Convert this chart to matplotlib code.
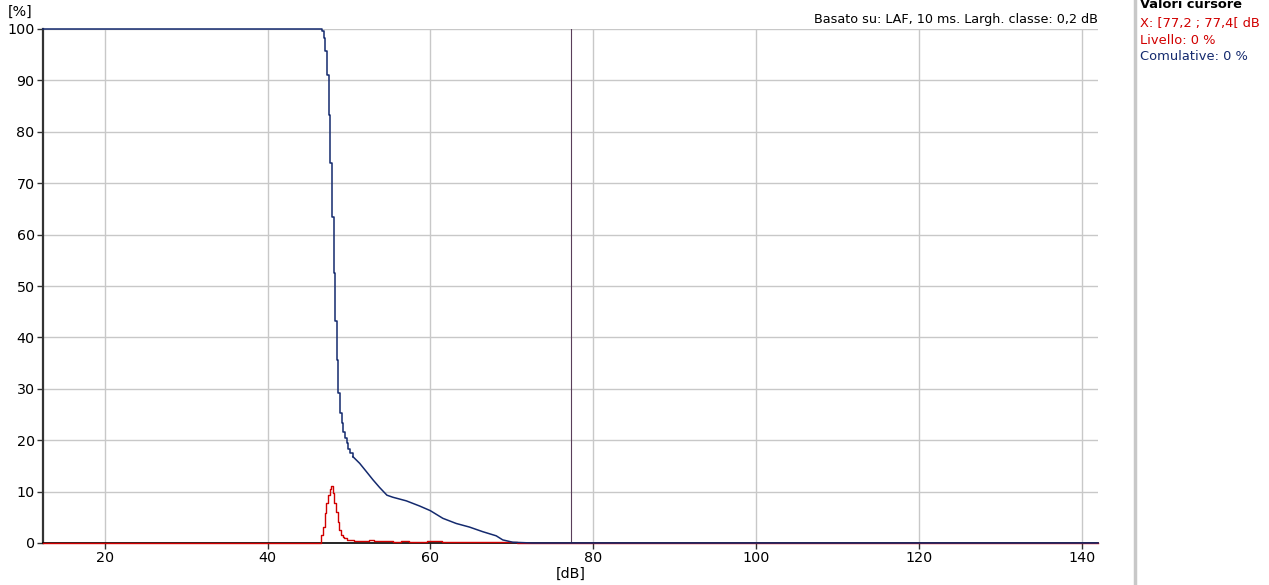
import matplotlib
matplotlib.use("Agg")
import matplotlib.pyplot as plt
from matplotlib.lines import Line2D

# level distribution (class width 0.2 dB), left bin edges in dB, % of time
level_db = [12.4, 46.4, 46.6, 46.8, 47.0, 47.2, 47.4, 47.6, 47.8, 48.0, 48.2,
            48.4, 48.6, 48.8, 49.0, 49.2, 49.4, 49.6, 49.8, 50.0, 50.2, 50.6,
            51.0, 51.6, 52.4, 53.0, 53.8, 54.6, 55.4, 56.4, 57.4, 58.6, 59.6,
            60.6, 61.4, 62.6, 63.6, 64.6, 65.6, 66.6, 67.6, 68.6, 69.6, 70.6,
            71.6, 142.0]
level_pct = [0.0, 0.0, 1.6, 3.2, 5.8, 7.7, 9.3, 10.6, 11.0, 9.7, 7.7,
             6.1, 4.1, 2.5, 1.6, 1.2, 0.9, 0.95, 0.6, 0.5, 0.5, 0.4,
             0.45, 0.4, 0.5, 0.45, 0.4, 0.3, 0.25, 0.3, 0.2, 0.25, 0.3,
             0.35, 0.25, 0.2, 0.25, 0.2, 0.25, 0.2, 0.25, 0.15, 0.1, 0.05,
             0.0, 0.0]

# cumulative distribution: stepped part and smooth tail
cum_step_db = [12.4, 46.7, 46.9, 47.1, 47.3, 47.5, 47.7, 47.9, 48.1, 48.3,
               48.5, 48.7, 48.9, 49.1, 49.3, 49.5, 49.7, 49.9, 50.1, 50.47]
cum_step_pct = [100.0, 99.7, 98.3, 95.7, 91.1, 83.3, 74.0, 63.4, 52.5, 43.1,
                35.6, 29.1, 25.2, 23.3, 21.5, 20.4, 19.4, 18.2, 17.5, 16.8]
cum_tail_db = [50.47, 51.3, 52.12, 52.93, 53.75, 54.65, 55.38, 57.03, 58.66,
               59.97, 61.52, 63.16, 64.79, 66.42, 68.07, 68.88, 70.11, 72.5,
               142.0]
cum_tail_pct = [16.8, 15.5, 13.9, 12.3, 10.8, 9.3, 8.9, 8.2, 7.2,
                6.3, 4.8, 3.8, 3.1, 2.2, 1.4, 0.6, 0.15, 0.0,
                0.0]

cursor_db = 77.2
x_ticks = [20, 40, 60, 80, 100, 120, 140]
y_ticks = [0, 10, 20, 30, 40, 50, 60, 70, 80, 90, 100]

blue = "#142a6e"
red = "#d10000"
fs = 9.2

plt.rcParams['font.family'] = ['DejaVu Sans']
fig = plt.figure(figsize=(12.69, 5.85), dpi=100)
ax = fig.add_axes([43 / 1269, 42 / 585, 1055 / 1269, 514 / 585])

ax.set_xlim(12.4, 142)
ax.set_ylim(0, 100)
ax.set_xticks(x_ticks)
ax.set_yticks(y_ticks)
ax.grid(True, color="#c8c8c8", linewidth=1.0)
ax.set_axisbelow(True)
for side in ["top", "right"]:
    ax.spines[side].set_visible(False)
ax.spines["left"].set_color("#333333")
ax.spines["left"].set_linewidth(1.6)
ax.spines["bottom"].set_color("black")
ax.spines["bottom"].set_linewidth(1.2)
ax.tick_params(axis="both", labelsize=10.3, length=4, width=1, color="#333333",
               pad=2)

ax.axvline(cursor_db, color="#5a3e5a", linewidth=0.8, zorder=2)

ax.plot(level_db, level_pct, drawstyle="steps-post", color=red, linewidth=1.0,
        zorder=3, clip_on=False)
ax.plot(cum_step_db, cum_step_pct, drawstyle="steps-post", color=blue,
        linewidth=1.1, zorder=4, clip_on=False)
ax.plot(cum_tail_db, cum_tail_pct, color=blue, linewidth=1.1, zorder=4,
        clip_on=False)

ax.set_xlabel("[dB]", fontsize=10.3, labelpad=1)
fig.text(8 / 1269, 1 - 12 / 585, "[%]", fontsize=10.3, va="center", ha="left")
fig.text(1098 / 1269, 1 - 19 / 585, "Basato su: LAF, 10 ms. Largh. classe: 0,2 dB",
         fontsize=fs, ha="right", va="center")

# cursor panel on the right
fig.add_artist(Line2D([1135 / 1269, 1135 / 1269], [0, 1], color="#c8c8c8",
                      linewidth=2.5))
fig.text(1140 / 1269, 1 - 5 / 585, "Valori cursore", fontsize=fs + 0.2,
         fontweight="bold", ha="left", va="center")
fig.text(1140 / 1269, 1 - 23 / 585, "X: [77,2 ; 77,4[ dB", fontsize=fs + 0.2,
         color=red, ha="left", va="center")
fig.text(1140 / 1269, 1 - 40 / 585, "Livello: 0 %", fontsize=fs + 0.2,
         color=red, ha="left", va="center")
fig.text(1140 / 1269, 1 - 57 / 585, "Comulative: 0 %", fontsize=fs + 0.2,
         color=blue, ha="left", va="center")

fig.savefig("out.png", dpi=100)
